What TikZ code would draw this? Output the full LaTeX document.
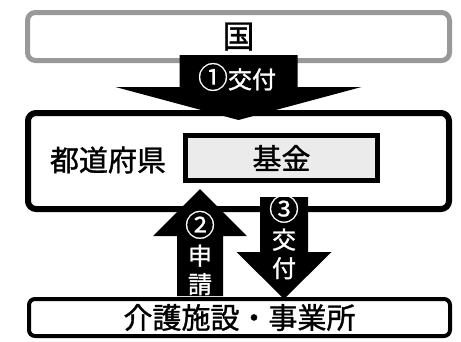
\documentclass[tikz,border=0pt]{standalone}
\usepackage{fontspec}
\usepackage{tikz}
\usetikzlibrary{calc}
\setmainfont[FakeBold=1.2]{Noto Sans CJK JP}
\newfontfamily\circfont[FakeBold=0.6]{Noto Sans CJK JP}

% block arrow: start, tip, shaft half width, head half width, head length (signed)
\newcommand{\blockarrow}[5]{%
  \fill let \p1=(#1), \p2=(#2) in
    (\x1-#3,\y1) -- (\x1+#3,\y1) -- (\x1+#3,\y2+#5) -- (\x1+#4,\y2+#5)
    -- (\x2,\y2) -- (\x1-#4,\y2+#5) -- (\x1-#3,\y2+#5) -- cycle;}
\newcommand{\circnum}[1]{{\circfont\fontsize{30}{30}\selectfont #1}}

\begin{document}
\begin{tikzpicture}[x=1pt,y=-1pt,
  frame/.style={rectangle,rounded corners=8pt,inner sep=0pt},
  big/.style={font=\fontsize{29}{29}\selectfont},
  label/.style={text=white,align=center,font=\fontsize{24}{28.5}\selectfont}]
\useasboundingbox (0,0) rectangle (461,341);

\node [frame,draw=black!40,line width=5pt,minimum width=422pt,minimum height=48pt,font=\fontsize{32}{32}\selectfont] (kuni) at (238.5,36.5) {国};
\node [frame,draw,line width=6pt,minimum width=421pt,minimum height=96pt] (pref) at (238.5,161) {};
\node [big] (prefname) at (108,160) {都道府県};
\node [rectangle,draw,line width=5pt,fill=black!8,minimum width=192pt,minimum height=45pt,big] (fund) at (281.5,158) {基金};
\node [frame,rounded corners=6pt,draw,line width=4pt,minimum width=421pt,minimum height=37pt,big] (shisetsu) at (239.5,317.5) {介護施設・事業所};

\coordinate (up) at (200,0);
\coordinate (down) at (284,0);

% arrows
\blockarrow{$(kuni.south)+(0,-8)$}{$(pref.north)+(0,10)$}{59pt}{123pt}{33pt}
\blockarrow{$(up |- shisetsu.north)+(0,-1)$}{$(up |- fund.south)+(0,6)$}{23pt}{47pt}{-47pt}
\blockarrow{$(down |- pref.south)+(0,-15)$}{$(down |- shisetsu.north)+(0,2)$}{24pt}{47.5pt}{47pt}

\node [label,font=\fontsize{24}{24}\selectfont] (give1) at (237,77) {\circnum{①}交付};
\node [label] (apply2) at (200,253) {\circnum{②}\\申\\請};
\node [label] (give3) at (284,237) {\circnum{③}\\交\\付};
\end{tikzpicture}
\end{document}
